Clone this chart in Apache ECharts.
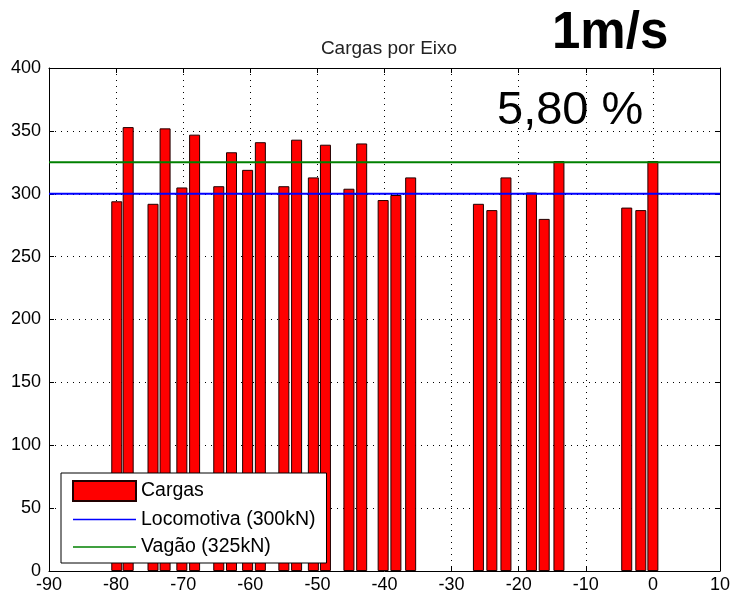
<!DOCTYPE html>
<html>
<head>
<meta charset="utf-8">
<script src="https://cdn.jsdelivr.net/npm/echarts@6/dist/echarts.min.js"></script>
<style>
  html, body { margin: 0; padding: 0; background: #fff; }
  #chart { width: 733px; height: 598px; }
</style>
</head>
<body>
<div id="chart"></div>
<script>
// Axle positions along the train (m) and the load measured on each axle (kN)
const axlePositions = [-79.9, -78.2, -74.5, -72.7, -70.2, -68.3, -64.7, -62.8, -60.4, -58.5,
  -55.0, -53.1, -50.6, -48.8, -45.3, -43.4, -40.2, -38.3, -36.1,
  -26.0, -24.0, -21.9, -18.1, -16.2, -14.0, -3.9, -1.8, 0.0];
const axleLoads = [294, 353, 292, 352, 305, 347, 306, 333, 319, 341,
  306, 343, 313, 339, 304, 340, 295, 299, 313,
  292, 287, 313, 301, 280, 326, 289, 287, 326];

// Reference limits (kN)
const locomotivaLimit = 300;
const vagaoLimit = 325;

// Axis ranges
const xRange = [-90, 10];
const yRange = [0, 400];

const seriesNames = ['Cargas', 'Locomotiva (300kN)', 'Vagão (325kN)'];
const blue = '#0000ff';
const green = '#008000';

const font = 'Liberation Sans, Arial, sans-serif';
const dotted = { type: [1, 5], color: '#000', width: 1 };
// thin horizontal stroke used as the legend key of the limit lines
const lineKey = 'path://M0,0H63V1.4H0Z';

const chart = echarts.init(document.getElementById('chart'));

const xAxisCommon = {
  type: 'value', min: xRange[0], max: xRange[1], interval: 10,
  axisLine: { show: true, onZero: false, lineStyle: { color: '#000', width: 1 } },
  axisTick: { show: true, inside: true, length: 5, lineStyle: { color: '#000' } },
};
const yAxisCommon = {
  type: 'value', min: yRange[0], max: yRange[1], interval: 50,
  axisLine: { show: true, onZero: false, lineStyle: { color: '#000', width: 1 } },
  axisTick: { show: true, inside: true, length: 5, lineStyle: { color: '#000' } },
};

chart.setOption({
  animation: false,
  backgroundColor: '#fff',
  title: {
    text: 'Cargas por Eixo',
    left: 384, top: 34, textAlign: 'center',
    textStyle: { fontFamily: font, fontSize: 19, fontWeight: 'normal', color: '#222' }
  },
  grid: { left: 49, right: 13, top: 68, bottom: 27 },
  xAxis: [
    Object.assign({}, xAxisCommon, {
      position: 'bottom',
      axisLabel: { color: '#000', fontFamily: font, fontSize: 18, margin: 5 },
      splitLine: { show: true, lineStyle: dotted }
    }),
    Object.assign({}, xAxisCommon, {
      position: 'top',
      axisLabel: { show: false },
      splitLine: { show: false }
    })
  ],
  yAxis: [
    Object.assign({}, yAxisCommon, {
      position: 'left',
      axisLabel: { color: '#000', fontFamily: font, fontSize: 18, margin: 8 },
      splitLine: { show: true, lineStyle: dotted }
    }),
    Object.assign({}, yAxisCommon, {
      position: 'right',
      axisLabel: { show: false },
      splitLine: { show: false }
    })
  ],
  legend: {
    orient: 'vertical',
    left: 61, top: 473,
    data: [
      { name: seriesNames[0], icon: 'rect' },
      { name: seriesNames[1], icon: lineKey, itemStyle: { color: blue } },
      { name: seriesNames[2], icon: lineKey, itemStyle: { color: green } }
    ],
    itemWidth: 63, itemHeight: 20, itemGap: 7.5,
    padding: [7, 11, 6, 11],
    backgroundColor: '#fff',
    borderColor: '#000', borderWidth: 1,
    textStyle: { fontFamily: font, fontSize: 19.5, color: '#000' },
    z: 10
  },
  series: [
    {
      name: seriesNames[0],
      type: 'bar',
      barWidth: 11,
      data: axlePositions.map((x, i) => [x, axleLoads[i]]),
      itemStyle: { color: '#ff0000', borderColor: '#200000', borderWidth: 1 },
      z: 2
    },
    {
      name: seriesNames[1],
      type: 'line',
      symbol: 'none',
      data: xRange.map(x => [x, locomotivaLimit]),
      lineStyle: { color: blue, width: 2 },
      itemStyle: { color: blue },
      z: 3
    },
    {
      name: seriesNames[2],
      type: 'line',
      symbol: 'none',
      data: xRange.map(x => [x, vagaoLimit]),
      lineStyle: { color: green, width: 2 },
      itemStyle: { color: green },
      z: 3
    }
  ],
  graphic: [
    {
      type: 'text', left: 552, top: 8, z: 20,
      style: { text: '1m/s', font: 'bold 51px ' + font, fill: '#000' }
    },
    {
      type: 'text', left: 497, top: 88, z: 20,
      style: { text: '5,80 %', font: '47px ' + font, fill: '#000' }
    }
  ]
});
</script>
</body>
</html>
